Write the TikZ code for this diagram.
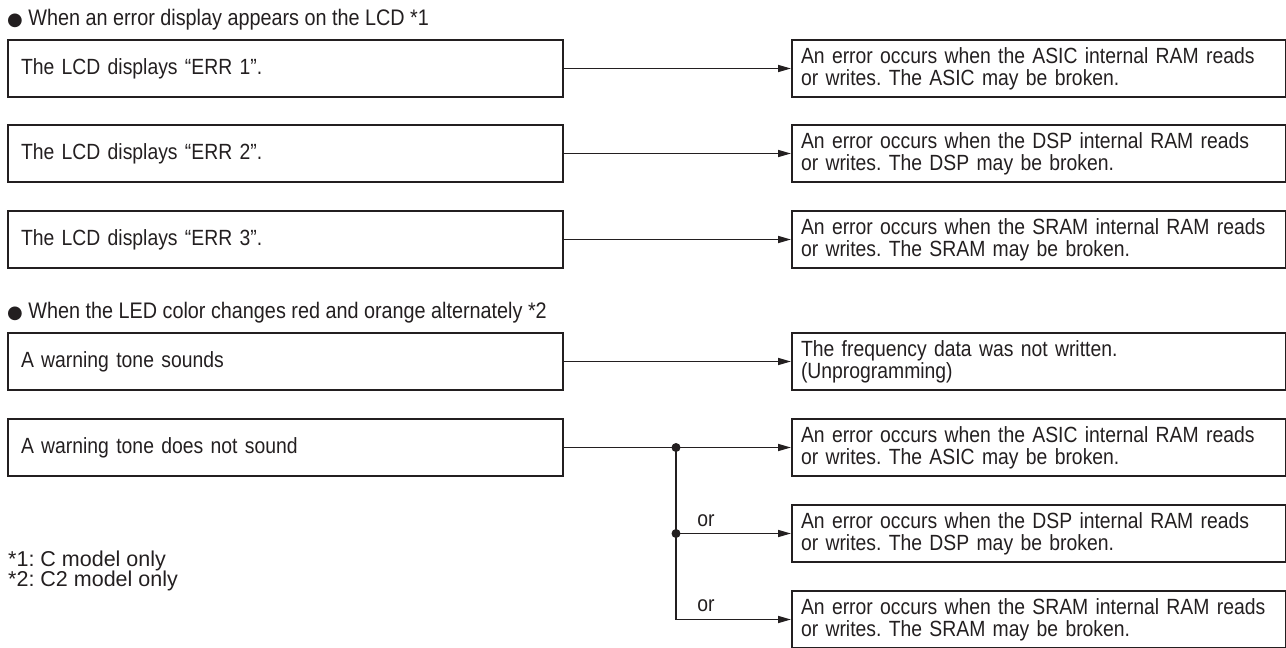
\documentclass[tikz,border=0pt]{standalone}
\usepackage{fontspec}
\setmainfont[FakeStretch=0.88]{Liberation Sans}
\newfontfamily\fnfont{Liberation Sans}
\newfontfamily\symfont{DejaVu Sans}
\usetikzlibrary{arrows.meta}
\definecolor{ink}{HTML}{231F20}
\frenchspacing
\begin{document}
\frenchspacing
\begin{tikzpicture}[x=1pt,y=-1pt,
  every node/.style={text=ink},
  maintext/.style={font=\fontsize{22}{22}\selectfont\frenchspacing},
  lbox/.style={maintext, draw=ink, line width=2pt, anchor=north west,
    minimum width=555pt, minimum height=57pt, text width=529pt,
    inner xsep=13pt, inner ysep=0pt, align=left},
  rbox/.style={maintext, draw=ink, line width=2pt, anchor=north west,
    minimum width=494pt, minimum height=57pt, text width=476pt,
    inner xsep=9pt, inner ysep=0pt, align=left},
  head/.style={anchor=base west, inner sep=0pt, font=\fontsize{22.5}{22}\selectfont},
  foot/.style={anchor=base west, inner sep=0pt, font=\fnfont\fontsize{21.5}{21}\selectfont},
  conn/.style={draw=ink, line width=1.6pt, -{Triangle[length=13pt,width=7pt]}},
  wire/.style={draw=ink, line width=1.6pt},
  dot/.style={circle, fill=ink, inner sep=0pt, minimum size=9pt},
  orlab/.style={maintext, inner sep=0pt, anchor=base}
]
\useasboundingbox (0,0) rectangle (1286,648);

% Section 1
\node[head] (h1) at (7,25) {{\symfont\fontsize{18}{20}\selectfont ●} When an error display appears on the LCD *1};
\node[lbox] (l1) at (7,39) {The LCD displays “ERR 1”.};
\node[rbox] (r1) at (791,39) {An error occurs when the ASIC internal RAM reads\\or writes. The ASIC may be broken.};
\node[lbox] (l2) at (7,124) {The LCD displays “ERR 2”.};
\node[rbox] (r2) at (791,124) {An error occurs when the DSP internal RAM reads\\or writes. The DSP may be broken.};
\node[lbox] (l3) at (7,210) {The LCD displays “ERR 3”.};
\node[rbox] (r3) at (791,210) {An error occurs when the SRAM internal RAM reads\\or writes. The SRAM may be broken.};

\draw[conn] (l1.east) -- (r1.west);
\draw[conn] (l2.east) -- (r2.west);
\draw[conn] (l3.east) -- (r3.west);

% Section 2
\node[head] (h2) at (7,318) {{\symfont\fontsize{18}{20}\selectfont ●} When the LED color changes red and orange alternately *2};
\node[lbox] (l4) at (7,332) {A warning tone sounds};
\node[rbox] (r4) at (791,332) {The frequency data was not written.\\(Unprogramming)};
\node[lbox] (l5) at (7,418) {A warning tone does not sound};
\node[rbox] (r5) at (791,418) {An error occurs when the ASIC internal RAM reads\\or writes. The ASIC may be broken.};
\node[rbox] (r6) at (791,504) {An error occurs when the DSP internal RAM reads\\or writes. The DSP may be broken.};
\node[rbox] (r7) at (791,590) {An error occurs when the SRAM internal RAM reads\\or writes. The SRAM may be broken.};

\draw[conn] (l4.east) -- (r4.west);
\draw[conn] (l5.east) -- (r5.west);
\coordinate (j1) at (l5.east -| 676,0);
\coordinate (j2) at (r6.west -| 676,0);
\draw[wire] (j1) -- (j2);
\draw[conn] (j2) -- (r6.west);
\draw[conn] (j2) |- (r7.west);
\node[dot] (d1) at (j1) {};
\node[dot] (d2) at (j2) {};
\node[orlab] (or1) at (706,526) {or};
\node[orlab] (or2) at (706,611) {or};

% Footnotes
\node[foot] (fn1) at (8,566) {*1: C model only};
\node[foot] (fn2) at (8,586) {*2: C2 model only};
\end{tikzpicture}
\end{document}
